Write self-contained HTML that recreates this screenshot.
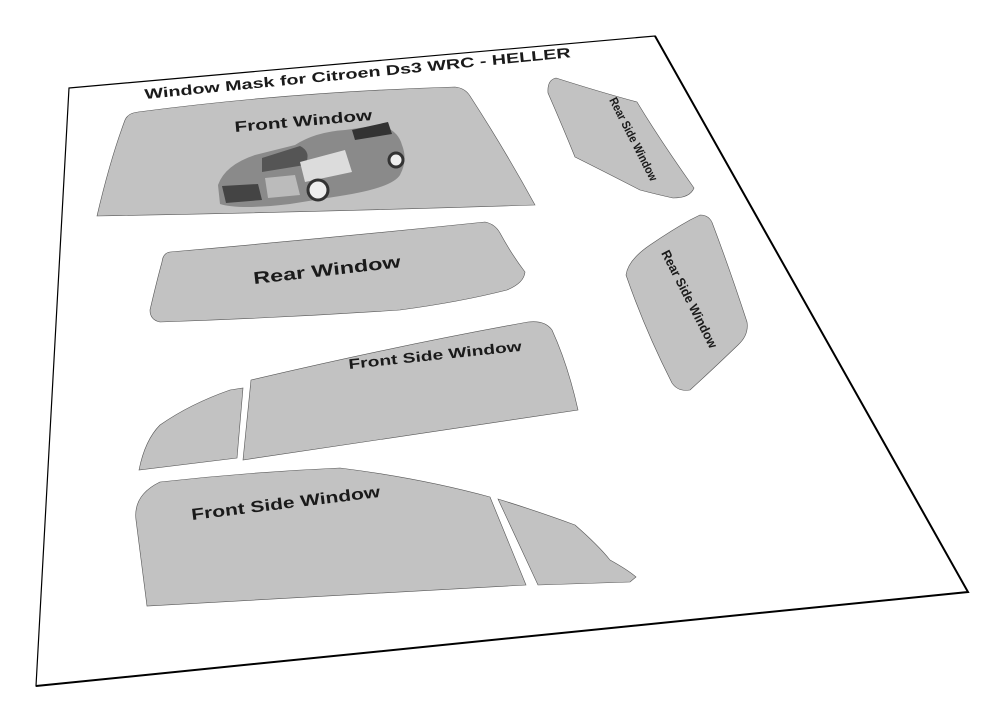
<!DOCTYPE html>
<html><head><meta charset="utf-8"><style>
html,body{margin:0;padding:0;background:#fff;width:981px;height:719px;overflow:hidden}
svg text{font-family:"Liberation Sans",sans-serif;font-weight:bold;fill:#1a1a1a}
</style></head><body>
<svg width="981" height="719" viewBox="0 0 981 719" xmlns="http://www.w3.org/2000/svg">
<polygon points="69,88 655,36 968,592 36,686" fill="#fff" stroke="#000" stroke-width="1.2"/>
<polyline points="655,36 968,592 36,686" fill="none" stroke="#000" stroke-width="2"/>
<g fill="#c2c2c2" stroke="#555" stroke-width="0.6">
<path d="M138,112 Q290,92 455,87 Q465,88 470,96 Q505,150 535,205 Q320,212 97,216 Q110,160 125,120 Q128,113 138,112Z"/>
<path d="M556,78 Q600,92 637,102 Q660,140 694,188 Q690,198 673,198 Q655,194 640,190 Q605,172 575,157 Q562,125 548,93 Q547,80 556,78Z"/>
<path d="M170,252 Q330,238 485,222 Q495,224 500,233 Q512,255 525,272 Q524,283 507,290 Q460,302 400,310 Q280,318 160,322 Q150,320 150,310 Q157,280 162,262 Q163,253 170,252Z"/>
<path d="M700,215 Q710,215 713,225 Q730,270 747,322 Q749,335 738,345 Q712,370 690,390 Q678,392 672,383 Q645,330 626,275 Q628,260 650,245 Q672,230 690,220Z"/>
<path d="M251,380 Q400,345 528,322 Q545,320 552,330 Q568,365 578,410 L243,460Z"/>
<path d="M243,388 L237,458 L139,470 Q145,440 160,425 Q190,404 230,390Z"/>
<path d="M160,482 Q250,472 340,468 Q420,478 490,497 L526,585 L147,606 L136,520 Q133,495 160,482Z"/>
<path d="M498,499 Q540,512 575,525 Q598,545 610,560 Q628,570 636,577 L630,582 L538,585Z"/>
</g>
<g>
<path d="M218,185 Q225,165 255,155 L295,145 Q315,132 345,130 L380,125 Q398,130 402,145 Q408,160 400,175 Q392,188 340,196 L290,204 Q240,210 220,204Z" fill="#8a8a8a"/>
<path d="M262,158 L300,146 Q312,152 305,165 L262,172Z" fill="#555"/>
<path d="M352,130 L388,122 L392,134 L355,140Z" fill="#333"/>
<path d="M300,162 L345,150 L352,172 L305,182Z" fill="#dcdcdc"/>
<path d="M222,186 L258,184 L262,200 L226,203Z" fill="#444"/>
<path d="M265,178 L295,175 L300,195 L268,198Z" fill="#bbb"/>
<circle cx="318" cy="190" r="10" fill="#eee" stroke="#333" stroke-width="3"/>
<circle cx="396" cy="160" r="7" fill="#eee" stroke="#333" stroke-width="3"/>
</g>
<text x="145" y="99" font-size="14" textLength="428" lengthAdjust="spacingAndGlyphs" transform="rotate(-5.6 145 99)">Window Mask for Citroen Ds3 WRC - HELLER</text>
<text x="235" y="132" font-size="15" textLength="138" lengthAdjust="spacingAndGlyphs" transform="rotate(-5 235 132)">Front Window</text>
<text x="254" y="284" font-size="17" textLength="148" lengthAdjust="spacingAndGlyphs" transform="rotate(-6.5 254 284)">Rear Window</text>
<text x="349" y="369" font-size="14" textLength="174" lengthAdjust="spacingAndGlyphs" transform="rotate(-6 349 369)">Front Side Window</text>
<text x="192" y="520" font-size="16" textLength="190" lengthAdjust="spacingAndGlyphs" transform="rotate(-7 192 520)">Front Side Window</text>
<text x="609" y="100" font-size="12" textLength="92" lengthAdjust="spacingAndGlyphs" transform="rotate(63 609 100)">Rear Side Window</text>
<text x="661" y="253" font-size="13" textLength="108" lengthAdjust="spacingAndGlyphs" transform="rotate(63 661 253)">Rear Side Window</text>
</svg>
</body></html>
